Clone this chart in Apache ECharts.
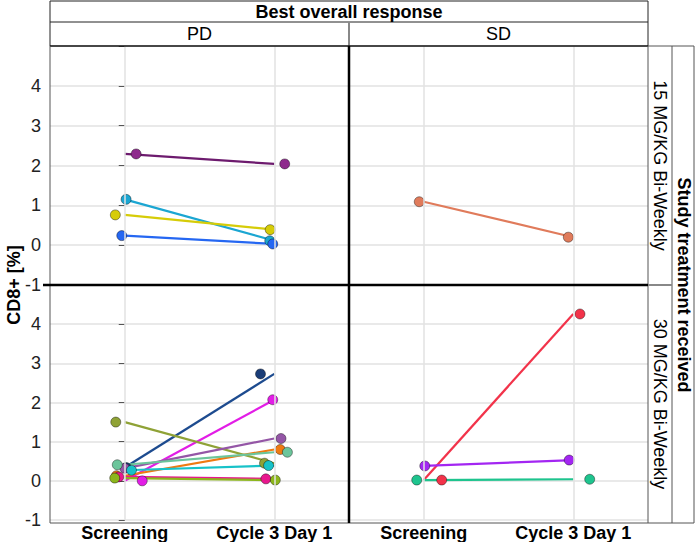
<!DOCTYPE html>
<html>
<head>
<meta charset="utf-8">
<script src="https://cdn.jsdelivr.net/npm/echarts@6/dist/echarts.min.js"></script>
<style>
html,body{margin:0;padding:0;background:#fff;}
#chart{width:695px;height:542px;}
</style>
</head>
<body>
<div id="chart"></div>
<script>
// ---------- DATA ----------
const categories = ['Screening', 'Cycle 3 Day 1'];
const yTicks = [-1, 0, 1, 2, 3, 4];
const responseLevels = ['PD', 'SD'];
const doseLevels = ['15 MG/KG Bi-Weekly', '30 MG/KG Bi-Weekly'];
const facetTitle = 'Best overall response';
const rowTitle = 'Study treatment received';
const yTitle = 'CD8+ [%]';

// PD, 15 MG/KG
const pd15Screening = [2.29, 1.15, 0.76, 0.24];
const pd15Cycle3    = [2.04, 0.11, 0.39, 0.03];
const pd15JitterScreening = [0.076, 0.009, -0.063, -0.02];
const pd15JitterCycle3    = [0.07, -0.03, -0.027, -0.01];

// SD, 15 MG/KG
const sd15Screening = [1.09];
const sd15Cycle3    = [0.20];
const sd15JitterScreening = [-0.03];
const sd15JitterCycle3    = [-0.033];

// PD, 30 MG/KG
const pd30Screening = [0.34, 0.00, 1.50, 0.32, 0.13, 0.41, 0.27, 0.10, 0.07];
const pd30Cycle3    = [2.73, 2.07, 0.45, 1.08, 0.80, 0.73, 0.39, 0.05, 0.02];
const pd30JitterScreening = [0.01, 0.117, -0.06, 0.0, -0.056, -0.05, 0.045, -0.04, -0.067];
const pd30JitterCycle3    = [-0.092, -0.01, -0.065, 0.045, 0.04, 0.088, -0.038, -0.056, 0.007];

// SD, 30 MG/KG
const sd30Screening = [0.02, 0.38, 0.02];
const sd30Cycle3    = [4.26, 0.53, 0.04];
const sd30JitterScreening = [0.12, 0.007, -0.047];
const sd30JitterCycle3    = [0.045, -0.027, 0.11];

// ---------- STYLE ----------
const panelStyles = [
  { lines: ['#6d1b6e', '#1ba6d2', '#d6cc08', '#2567f2'],
    points: ['#8e2a8c', '#1ba6d2', '#d6cc08', '#2567f2'] },
  { lines: ['#e07b5b'], points: ['#e07b5b'] },
  { lines: ['#1d4b8f', '#e21de6', '#8fa236', '#9456a6', '#ef7a12', '#6cc59b', '#17c2c8', '#e8188e', '#8cb61c'],
    points: ['#1a3d78', '#e21de6', '#8fa236', '#9456a6', '#ef7a12', '#6cc59b', '#17c2c8', '#e8188e', '#8cb61c'] },
  { lines: ['#f2334a', '#a326f2', '#1ec48e'], points: ['#f2334a', '#a326f2', '#1ec48e'] }
];
const panelData = [
  [pd15Screening, pd15Cycle3, pd15JitterScreening, pd15JitterCycle3],
  [sd15Screening, sd15Cycle3, sd15JitterScreening, sd15JitterCycle3],
  [pd30Screening, pd30Cycle3, pd30JitterScreening, pd30JitterCycle3],
  [sd30Screening, sd30Cycle3, sd30JitterScreening, sd30JitterCycle3]
];

const FONT = 'Liberation Sans, Arial, Helvetica, sans-serif';
const L = 50, M = 349, R = 648, T = 46, H = 285, B = 523, S1 = 672, S2 = 694;
const gridBoxes = [
  { left: L, top: T, width: M - L, height: H - T },
  { left: M, top: T, width: R - M, height: H - T },
  { left: L, top: H, width: M - L, height: B - H },
  { left: M, top: H, width: R - M, height: B - H }
];

const grids = [], xAxes = [], yAxes = [], series = [];
gridBoxes.forEach((g, i) => {
  const isLeft = (i % 2 === 0), isBottom = (i >= 2);
  grids.push(Object.assign({ containLabel: false }, g));
  xAxes.push({
    type: 'value', gridIndex: i, min: -0.5, max: 1.5, interval: 0.5,
    axisLine: { show: false }, axisTick: { show: false }, splitLine: { show: false },
    axisLabel: {
      show: isBottom, margin: 4, fontFamily: FONT, fontSize: 18, fontWeight: 'bold', color: '#000',
      formatter: v => (Math.abs(v) < 1e-9 ? categories[0] : (Math.abs(v - 1) < 1e-9 ? categories[1] : ''))
    }
  });
  yAxes.push({
    type: 'value', gridIndex: i, min: -1, max: 5, interval: 1,
    axisLine: { show: false },
    axisTick: { show: isLeft, length: 6, lineStyle: { color: '#555', width: 1 } },
    splitLine: { show: true, lineStyle: { color: '#e2e2e2', width: 1.5 } },
    axisLabel: {
      show: isLeft, margin: 9, fontFamily: FONT, fontSize: 18, color: '#222',
      formatter: v => (yTicks.indexOf(v) >= 0 ? String(v) : '')
    }
  });
  // vertical gridlines at category positions
  series.push({
    type: 'line', xAxisIndex: i, yAxisIndex: i, z: 1, silent: true,
    data: [[0, -1], [1, -1]], showSymbol: false, lineStyle: { opacity: 0 },
    markLine: {
      silent: true, symbol: 'none', label: { show: false }, animation: false,
      lineStyle: { color: '#e2e2e2', width: 1.5, type: 'solid' },
      data: [{ xAxis: 0 }, { xAxis: 1 }]
    }
  });
  const [scr, cyc, js, jc] = panelData[i];
  const st = panelStyles[i];
  scr.forEach((v, j) => {
    series.push({
      type: 'line', xAxisIndex: i, yAxisIndex: i, z: 3, silent: true,
      data: [[0, scr[j]], [1, cyc[j]]], showSymbol: false,
      lineStyle: { color: st.lines[j], width: 2.2 }
    });
  });
  scr.forEach((v, j) => {
    series.push({
      type: 'scatter', xAxisIndex: i, yAxisIndex: i, z: 4, silent: true,
      symbolSize: 10,
      data: [[js[j], scr[j]], [1 + jc[j], cyc[j]]],
      itemStyle: { color: st.points[j], borderColor: 'rgba(0,0,0,0.5)', borderWidth: 0.8, opacity: 1 }
    });
  });
});

function line(x1, y1, x2, y2, color, width) {
  return { type: 'line', z: 100, silent: true, shape: { x1, y1, x2, y2 }, style: { stroke: color, lineWidth: width } };
}
function text(t, x, y, opts) {
  return Object.assign({
    type: 'text', z: 100, silent: true, x, y,
    style: Object.assign({ text: t, font: (opts.bold ? 'bold ' : '') + '18px ' + FONT, fill: '#000', align: 'center', verticalAlign: 'middle' }, {})
  }, opts.rotation !== undefined ? { rotation: opts.rotation } : {});
}

const graphics = [
  // header box
  line(L, 1, R, 1, '#222', 1),
  line(L, 1, L, T, '#222', 1),
  line(R, 1, R, T, '#222', 1),
  line(L, 22, R, 22, '#222', 1),
  line(M, 22, M, T, '#888', 2),
  line(L, T, R, T, '#111', 1.5),
  // panel frame
  line(L, T, L, B, '#555', 1),
  line(L, B, R, B, '#555', 1),
  line(R, T, R, B, '#555', 1),
  line(M, T, M, B, '#000', 2.5),
  line(43, H, R, H, '#000', 2.5),
  // right strips
  line(S1, T, S1, B, '#555', 1),
  line(S2, T, S2, B, '#555', 1),
  line(R, T, S2, T, '#555', 1),
  line(R, B, S2, B, '#555', 1),
  line(R, H, S1, H, '#888', 2),
  // texts
  text(facetTitle, (L + R) / 2, 12, { bold: true }),
  text(responseLevels[0], (L + M) / 2, 34, {}),
  text(responseLevels[1], (M + R) / 2, 34, {}),
  text(doseLevels[0], (R + S1) / 2, (T + H) / 2, { rotation: -Math.PI / 2 }),
  text(doseLevels[1], (R + S1) / 2, (H + B) / 2, { rotation: -Math.PI / 2 }),
  text(rowTitle, (S1 + S2) / 2 + 1, H, { bold: true, rotation: -Math.PI / 2 }),
  text(yTitle, 14, H, { bold: true, rotation: Math.PI / 2 })
];

const chart = echarts.init(document.getElementById('chart'), null, { renderer: 'svg' });
chart.setOption({
  animation: false,
  backgroundColor: '#fff',
  grid: grids,
  xAxis: xAxes,
  yAxis: yAxes,
  series: series,
  graphic: { elements: graphics }
});
</script>
</body>
</html>
